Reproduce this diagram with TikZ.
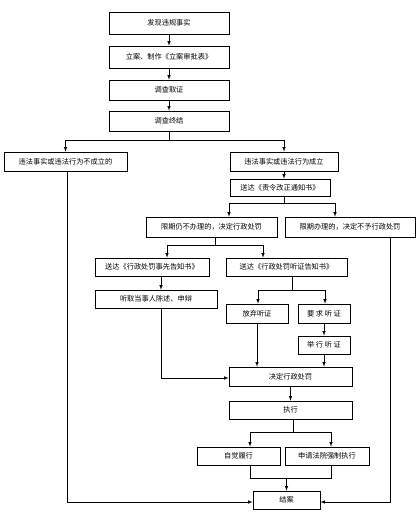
\documentclass[tikz,border=0pt]{standalone}
\usepackage{fontspec}
\newfontfamily\cjk{Noto Sans CJK SC}
\usetikzlibrary{arrows,positioning,calc}
\tikzstyle{stepbox}=[rectangle,draw=black,line width=0.6pt,fill=white,
inner sep=1pt,font=\cjk\fontsize{7.2}{8}\selectfont]
\tikzstyle{link}=[line width=0.6pt]

\begin{document}
\begin{tikzpicture}[x=1pt,y=-1pt,>=latex]
            \useasboundingbox (0,0) rectangle (417,514);

            % FILING PART

            \node[stepbox,minimum width=120pt,minimum height=22pt] (n1) at (169,23) {发现违规事实};
            \node[stepbox,minimum width=120pt,minimum height=22pt] (n2) at (169,57) {立案、制作《立案审批表》};
            \node[stepbox,minimum width=120pt,minimum height=20pt] (n3) at (169,90) {调查取证};
            \node[stepbox,minimum width=120pt,minimum height=20pt] (n4) at (169,121) {调查终结};

            \path[link,-latex] (n1) edge node {} (n2);
            \path[link,-latex] (n2) edge node {} (n3);
            \path[link,-latex] (n3) edge node {} (n4);

            % FINDINGS PART

            \node[stepbox,minimum width=123pt,minimum height=19pt] (n5) at (65.5,161.5) {违法事实或违法行为不成立的};
            \node[stepbox,minimum width=108pt,minimum height=19pt] (n6) at (284,161.5) {违法事实或违法行为成立};
            \node[stepbox,minimum width=100pt,minimum height=17pt] (n7) at (280,187.5) {送达《责令改正通知书》};

            \coordinate (s1) at (169,140);
            \draw[link] (n4) -- (s1);
            \draw[link,-latex] (s1) -| (n5);
            \draw[link,-latex] (s1) -| (n6);
            \draw[link,-latex] (n6) -- (n6 |- n7.north);

            % RECTIFICATION PART

            \node[stepbox,minimum width=131pt,minimum height=20pt] (n8) at (211.5,227) {限期仍不办理的，决定行政处罚};
            \node[stepbox,minimum width=130pt,minimum height=20pt] (n9) at (350,227) {限期办理的，决定不予行政处罚};

            \coordinate (b2l) at (229,203);
            \coordinate (b2r) at (335,203);
            \draw[link] (n7.south -| n6) -- (b2l -| n6);
            \draw[link] (b2l) -- (b2r);
            \draw[link,-latex] (b2l) -- (b2l |- n8.north);
            \draw[link,-latex] (b2r) -- (b2r |- n9.north);

            % NOTICE PART

            \node[stepbox,minimum width=114pt,minimum height=18pt] (n10) at (152,267) {送达《行政处罚事先告知书》};
            \node[stepbox,minimum width=121pt,minimum height=18pt] (n11) at (286.5,267) {送达《行政处罚听证告知书》};
            \node[stepbox,minimum width=122pt,minimum height=18pt] (n12) at (156,299) {听取当事人陈述、申辩};

            \coordinate (b3l) at (167,245);
            \coordinate (b3r) at (263,245);
            \coordinate (b3m) at (215,245);
            \draw[link] (n8.south -| b3m) -- (b3m);
            \draw[link] (b3l) -- (b3r);
            \draw[link,-latex] (b3l) -- (b3l |- n10.north);
            \draw[link,-latex] (b3r) -- (b3r |- n11.north);

            % HEARING PART

            \node[stepbox,minimum width=62pt,minimum height=19pt] (n13) at (257,313.5) {放弃听证};
            \node[stepbox,minimum width=52pt,minimum height=19pt] (n14) at (324,313.5) {要 求 听 证};
            \node[stepbox,minimum width=52pt,minimum height=18pt] (n15) at (324,345) {举 行 听 证};

            \coordinate (b4l) at (258,290);
            \coordinate (b4r) at (325,290);
            \coordinate (b4m) at (292,290);
            \draw[link] (n11.south -| b4m) -- (b4m);
            \draw[link] (b4l) -- (b4r);
            \draw[link,-latex] (b4l) -- (b4l |- n13.north);
            \draw[link,-latex] (b4r) -- (b4r |- n14.north);
            \path[link,-latex] (n14) edge node {} (n15);

            % DECISION PART

            \node[stepbox,minimum width=123pt,minimum height=19pt] (n16) at (290.5,376.5) {决定行政处罚};
            \node[stepbox,minimum width=123pt,minimum height=18pt] (n17) at (290.5,410) {执行};

            \coordinate (v12) at (161,378);
            \draw[link,-latex] (n10.south -| v12) -- (n12.north -| v12);
            \draw[link,-latex] (n12.south -| v12) -- (v12) -- (v12 -| n16.west);
            \draw[link,-latex] (n13) -- (n13 |- n16.north);
            \draw[link,-latex] (n15) -- (n15 |- n16.north);
            \path[link,-latex] (n16) edge node {} (n17);

            % EXECUTION PART

            \node[stepbox,minimum width=83pt,minimum height=18pt] (n18) at (238.5,456) {自觉履行};
            \node[stepbox,minimum width=84pt,minimum height=18pt] (n19) at (327,456) {申请法院强制执行};
            \node[stepbox,minimum width=67pt,minimum height=18pt] (n20) at (286.5,500) {结案};

            \coordinate (b5l) at (250,432);
            \coordinate (b5r) at (331,432);
            \coordinate (b5m) at (293,432);
            \draw[link] (n17.south -| b5m) -- (b5m);
            \draw[link] (b5l) -- (b5r);
            \draw[link,-latex] (b5l) -- (b5l |- n18.north);
            \draw[link,-latex] (b5r) -- (b5r |- n19.north);

            \coordinate (b6l) at (250,478);
            \coordinate (b6r) at (331,478);
            \draw[link] (n18.south -| b6l) -- (b6l) -- (b6r) -- (n19.south -| b6r);
            \draw[link,-latex] (n20 |- b6l) -- (n20);

            % Closing lines

            \coordinate (e5) at (67,502);
            \coordinate (e9) at (390,502);
            \draw[link,-latex] (n5.south -| e5) -- (e5) -- (e5 -| n20.west);
            \draw[link,-latex] (n9.south -| e9) -- (e9) -- (e9 -| n20.east);

        \end{tikzpicture}
\end{document}
